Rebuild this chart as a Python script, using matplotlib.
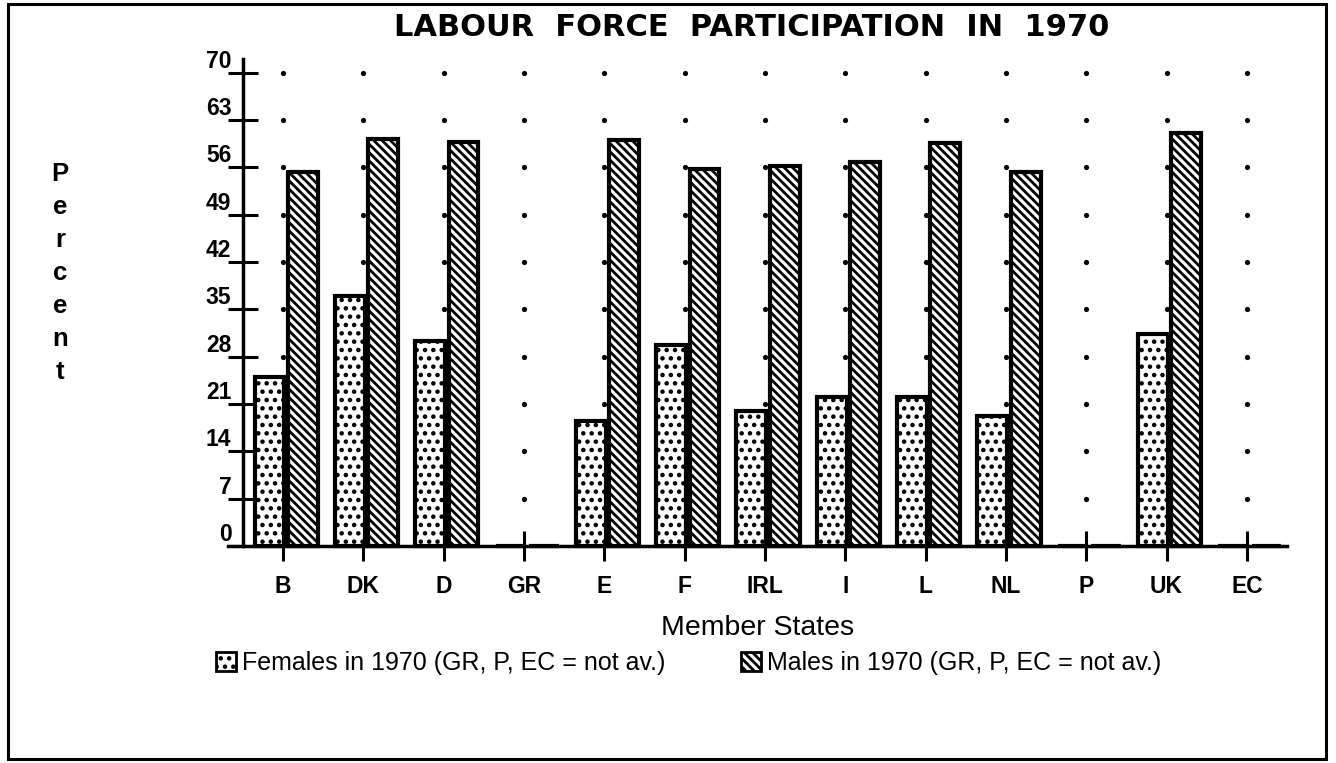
import matplotlib
matplotlib.use("Agg")
import matplotlib.pyplot as plt
from matplotlib.patches import Rectangle, Patch

# data (percent)
states = ["B", "DK", "D", "GR", "E", "F", "IRL", "I", "L", "NL", "P", "UK", "EC"]
females = [25.0, 37.0, 30.3, 0, 18.5, 29.7, 20.0, 22.0, 22.0, 19.3, 0, 31.4, 0]
males = [55.4, 60.2, 59.8, 0, 60.1, 55.8, 56.2, 56.8, 59.6, 55.3, 0, 61.1, 0]
yticks = [0, 7, 14, 21, 28, 35, 42, 49, 56, 63, 70]

plt.rcParams['font.family'] = ['Liberation Sans', 'DejaVu Sans']
plt.rcParams['hatch.linewidth'] = 2.0

fig = plt.figure(figsize=(13.36, 7.63), dpi=100)
ax = fig.add_axes([0.1707, 0.2755, 0.7927, 0.6468])

x = list(range(len(states)))
width = 0.37

# dotted grid at each category / tick (behind the bars)
gx = [i for i in x for v in yticks[1:]]
gy = [v for i in x for v in yticks[1:]]
ax.scatter(gx, gy, s=14, color='black', zorder=1, linewidths=0)

ax.bar([i - 0.17 for i in x], females, width, color='white', edgecolor='black',
       linewidth=3, hatch='..', zorder=3, clip_on=False,
       label='Females in 1970 (GR, P, EC = not av.)')
ax.bar([i + 0.245 for i in x], males, width, color='white', edgecolor='black',
       linewidth=3, hatch='\\\\\\\\', zorder=3, clip_on=False,
       label='Males in 1970 (GR, P, EC = not av.)')

ax.set_xlim(-0.685, 12.5)
ax.set_ylim(-1, 72)

for s in ['top', 'right']:
    ax.spines[s].set_visible(False)
ax.spines['left'].set_position(('data', -0.5))
ax.spines['left'].set_bounds(0, 72)
ax.spines['bottom'].set_position(('data', 0))
ax.spines['left'].set_linewidth(2.5)
ax.spines['bottom'].set_linewidth(2.5)
ax.spines['left'].set_zorder(4)
ax.spines['bottom'].set_zorder(4)

ax.set_yticks(yticks)
ax.set_yticklabels([str(v) for v in yticks], fontsize=16.5, fontweight='bold', va='bottom')
ax.set_xticks(x)
ax.set_xticklabels(states, fontsize=16.5, fontweight='bold')
ax.tick_params(axis='both', direction='inout', length=21.6, width=2.2)
ax.tick_params(axis='y', pad=-2.5)
ax.tick_params(axis='x', pad=10)
ax.patch.set_visible(False)

fig.text(0.563, 0.964, "LABOUR  FORCE  PARTICIPATION  IN  1970",
         ha='center', va='center', fontsize=22, fontweight='bold',
         family='DejaVu Sans')
fig.text(0.567, 1 - 628 / 763, "Member States", ha='center', va='center', fontsize=20.5)

# vertical "Percent" label, one letter per line
for k, ch in enumerate("Percent"):
    fig.text(60 / 1336, 1 - (174 + 33 * k) / 763, ch, ha='center', va='center',
             fontsize=18.5, fontweight='bold')

handles = [Patch(facecolor='white', edgecolor='black', hatch='..', linewidth=2),
           Patch(facecolor='white', edgecolor='black', hatch='\\\\\\\\', linewidth=2)]
labels = ['Females in 1970 (GR, P, EC = not av.)', 'Males in 1970 (GR, P, EC = not av.)']
fig.legend(handles, labels, ncol=2, loc='center left',
           bbox_to_anchor=(216 / 1336, 1 - 663 / 763), frameon=False,
           fontsize=18, handlelength=0.8, handleheight=0.8, handletextpad=0.25,
           columnspacing=3.0, borderpad=0, borderaxespad=0)

# outer frame
fig.patches.append(Rectangle((8 / 1336, 4 / 763), 1318 / 1336, 755 / 763,
                             transform=fig.transFigure, fill=False,
                             edgecolor='black', linewidth=2.2))

fig.savefig("out.png", dpi=100)
